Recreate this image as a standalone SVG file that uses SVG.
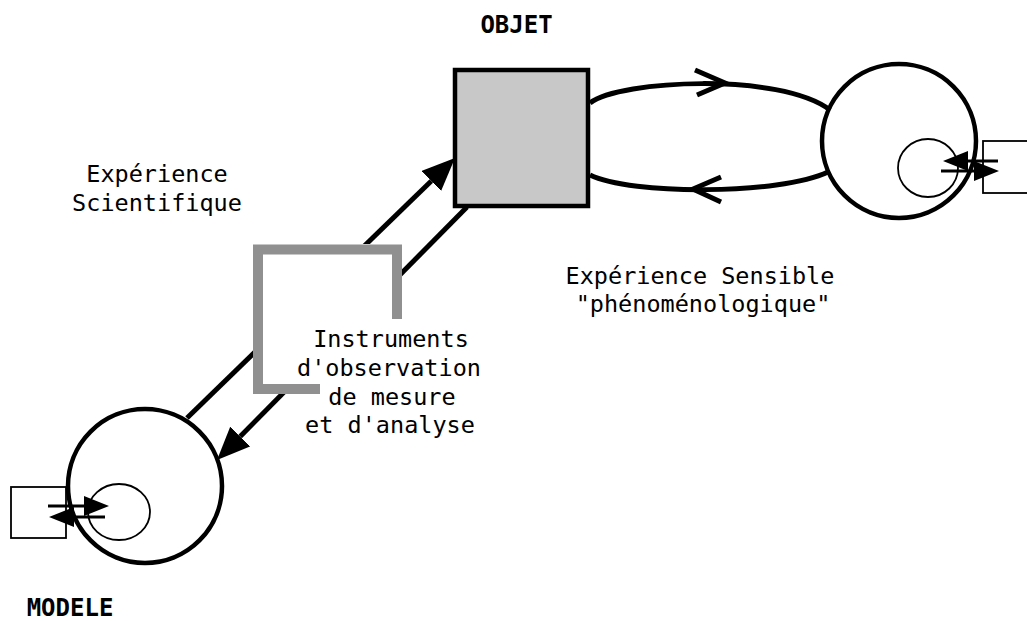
<svg xmlns="http://www.w3.org/2000/svg" width="1027" height="621" viewBox="0 0 1027 621">
<style>
.big{fill:none;stroke:#000;stroke-width:4.5}
.thin{fill:none;stroke:#000;stroke-width:1.8}
.conn{fill:none;stroke:#000;stroke-width:5}
.sm{fill:none;stroke:#000;stroke-width:3}
.lbl{font-family:"DejaVu Sans Mono","Liberation Mono",monospace;font-size:23.5px;text-anchor:middle;fill:#000}
.ttl{font-family:"DejaVu Sans Mono","Liberation Mono",monospace;font-size:24px;font-weight:bold;text-anchor:middle;fill:#000}
</style>
<defs>
<marker id="ah" viewBox="0 0 33 28" refX="0" refY="14" markerWidth="33" markerHeight="28" markerUnits="userSpaceOnUse" orient="auto"><path d="M0,0 L33,14 L0,28 Z" fill="#000"/></marker>
<marker id="sh" viewBox="0 0 25 20" refX="0" refY="10" markerWidth="25" markerHeight="20" markerUnits="userSpaceOnUse" orient="auto"><path d="M0,0 L25,10 L0,20 Z" fill="#000"/></marker>
</defs>
<rect width="1027" height="621" fill="#fff"/>
<g id="objet">
<rect x="455" y="70" width="133" height="136" fill="#c8c8c8" stroke="#000" stroke-width="4.5"/>
<text class="ttl" x="516.5" y="33">OBJET</text>
</g>
<g id="sujet-sensible">
<circle class="big" cx="899" cy="141" r="77"/>
<ellipse class="thin" cx="928" cy="168" rx="30" ry="29"/>
<rect class="thin" x="983" y="141" width="60" height="52"/>
</g>
<g id="modele">
<circle class="big" cx="145" cy="486" r="77"/>
<ellipse class="thin" cx="119" cy="512" rx="31" ry="28"/>
<rect class="thin" x="11" y="487" width="55" height="51"/>
<text class="ttl" x="70" y="616">MODELE</text>
</g>
<g id="connectors">
<line class="conn" x1="187" y1="418" x2="431.3" y2="181" marker-end="url(#ah)"/>
<line class="conn" x1="467" y1="207" x2="240.2" y2="436.5" marker-end="url(#ah)"/>
<path class="conn" d="M590,103 C620,80 780,72 830,110"/>
<path class="conn" d="M695,70 L725,83 L697,95"/>
<path class="conn" d="M590,175 C630,195 780,195 828,172"/>
<path class="conn" d="M721,177 L693,189 L721,202"/>
<line class="sm" x1="998" y1="161" x2="968" y2="161" marker-end="url(#sh)"/>
<line class="sm" x1="941" y1="171" x2="974" y2="171" marker-end="url(#sh)"/>
<line class="sm" x1="48" y1="506" x2="84" y2="506" marker-end="url(#sh)"/>
<line class="sm" x1="105" y1="517" x2="74" y2="517" marker-end="url(#sh)"/>
</g>
<g id="instruments">
<rect x="253" y="244" width="149" height="150" fill="#fff"/>
<path d="M320,389 H258 V249.5 H397 V319" fill="none" stroke="#909090" stroke-width="10"/>
<text class="lbl" x="391" y="347">Instruments</text>
<text class="lbl" x="389" y="376">d'observation</text>
<text class="lbl" x="392" y="405">de mesure</text>
<text class="lbl" x="390" y="433">et d'analyse</text>
</g>
<g id="label-scientifique">
<text class="lbl" x="157" y="182">Expérience</text>
<text class="lbl" x="157" y="211">Scientifique</text>
</g>
<g id="label-sensible">
<text class="lbl" x="700" y="284">Expérience Sensible</text>
<text class="lbl" x="703" y="312">"phénoménologique"</text>
</g>
</svg>
